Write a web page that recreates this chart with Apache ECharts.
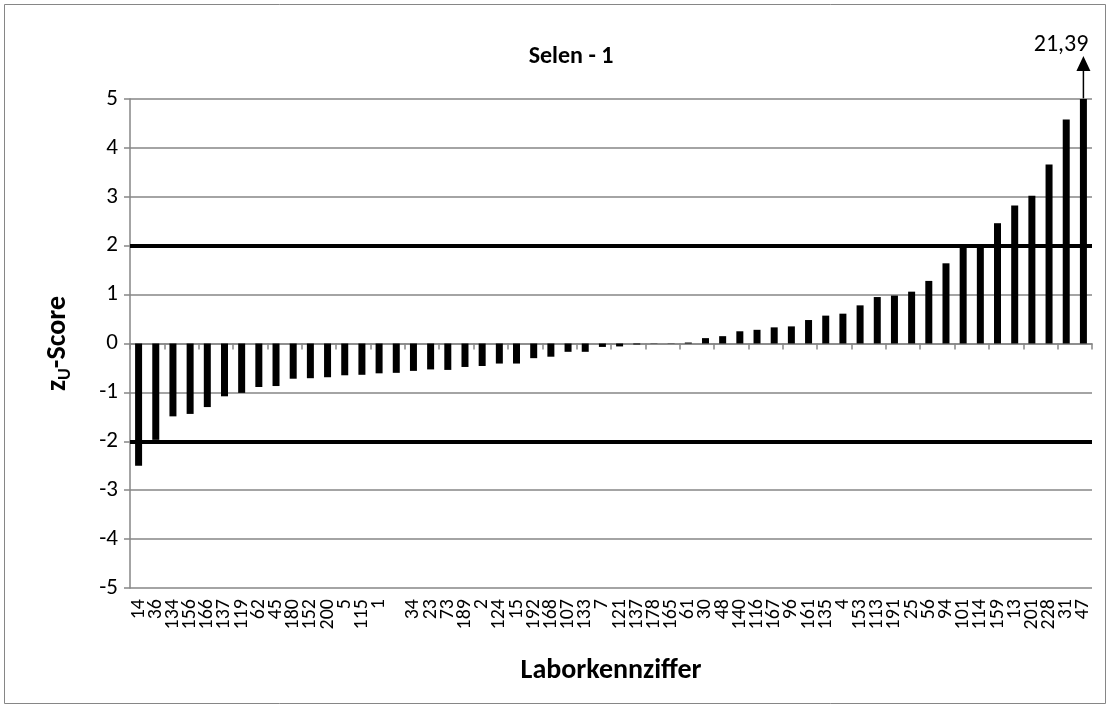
<!DOCTYPE html>
<html>
<head>
<meta charset="utf-8">
<script src="https://cdn.jsdelivr.net/npm/echarts@6/dist/echarts.min.js"></script>
<style>
html,body{margin:0;padding:0;background:#fff;}
#c{width:1111px;height:709px;}
</style>
</head>
<body>
<div id="c"></div>
<script>
// ---- data ----
const categories = ["14","36","134","156","166","137","119","62","45","180","152","200","5","115","1","","34","23","73","189","2","124","15","192","168","107","133","7","121","137","178","165","61","30","48","140","116","167","96","161","135","4","153","113","191","25","56","94","101","114","159","13","201","228","31","47"];
const zScores = [-2.50,-1.97,-1.49,-1.44,-1.30,-1.08,-1.01,-0.89,-0.87,-0.72,-0.71,-0.69,-0.65,-0.64,-0.61,-0.60,-0.56,-0.53,-0.54,-0.48,-0.46,-0.41,-0.41,-0.30,-0.27,-0.17,-0.17,-0.07,-0.06,-0.02,-0.005,0.005,0.02,0.11,0.15,0.25,0.28,0.33,0.35,0.48,0.57,0.61,0.78,0.95,0.98,1.06,1.28,1.64,1.96,2.02,2.46,2.82,3.02,3.66,4.58,21.39];
const limits = [2, -2];
const yTicks = {min: -5, max: 5, interval: 1};
const titleText = "Selen - 1";
const xName = "Laborkennziffer";

const font = "Carlito, Lato, 'Liberation Sans', sans-serif";
const chart = echarts.init(document.getElementById('c'), null, {renderer: 'canvas'});
const gray = '#868686';

const option = {
  backgroundColor: '#fff',
  animation: false,
  title: {
    text: titleText, left: 566, top: 40, textAlign: 'center',
    textStyle: {fontFamily: font, fontSize: 24, fontWeight: 'bold', color: '#000'}
  },
  grid: {left: 130, right: 19, top: 99, bottom: 121, containLabel: false},
  xAxis: [{
    type: 'category', data: categories, position: 'bottom',
    axisLine: {show: false, onZero: false}, axisTick: {show: false},
    axisLabel: {interval: 0, rotate: 90, margin: 11, fontFamily: font, fontSize: 20, color: '#000'},
    name: xName, nameLocation: 'middle', nameGap: 69,
    nameTextStyle: {fontFamily: font, fontSize: 28, fontWeight: 'bold', color: '#000'}
  }, {
    type: 'category', data: categories, position: 'bottom',
    axisLine: {show: true, onZero: true, lineStyle: {color: gray, width: 1.5}},
    axisTick: {show: true, length: 6, lineStyle: {color: gray, width: 1.5}},
    axisLabel: {show: false}
  }],
  yAxis: {
    type: 'value', min: yTicks.min, max: yTicks.max, interval: yTicks.interval,
    axisLine: {show: true, lineStyle: {color: gray, width: 1.5}},
    axisTick: {show: true, length: 6, lineStyle: {color: gray, width: 1.5}},
    axisLabel: {margin: 12, fontFamily: font, fontSize: 23, color: '#000'},
    splitLine: {show: true, lineStyle: {color: gray, width: 1.5}},
    name: '{a|z}{b|U}{a|-Score}', nameLocation: 'middle', nameGap: 56, nameRotate: 90,
    nameTextStyle: {
      rich: {
        a: {fontFamily: font, fontSize: 28, fontWeight: 'bold', color: '#000'},
        b: {fontFamily: font, fontSize: 18, fontWeight: 'bold', color: '#000', padding: [14, 0, 0, 0]}
      }
    }
  },
  series: [{
    type: 'bar', data: zScores, xAxisIndex: 0, yAxisIndex: 0,
    barWidth: 7, clip: true,
    itemStyle: {color: '#000'},
    markLine: {
      silent: true, symbol: 'none', label: {show: false},
      lineStyle: {color: '#000', width: 4, type: 'solid'},
      data: limits.map(v => ({yAxis: v}))
    }
  }],
  graphic: []
};
chart.setOption(option);

// arrow annotation for the clipped last bar
const lastIdx = zScores.length - 1;
const p = chart.convertToPixel({xAxisIndex: 0, yAxisIndex: 0}, [lastIdx, yTicks.max]);
const lastVal = zScores[lastIdx].toFixed(2).replace('.', ',');
chart.setOption({
  graphic: [
    {type: 'rect', shape: {x: 4.5, y: 4.5, width: 1101, height: 699}, style: {fill: 'none', stroke: gray, lineWidth: 1}, silent: true},
    {type: 'line', shape: {x1: p[0], y1: p[1], x2: p[0], y2: p[1] - 30}, style: {stroke: '#000', lineWidth: 1.5}},
    {type: 'polygon', shape: {points: [[p[0] - 7, p[1] - 28], [p[0] + 7, p[1] - 28], [p[0], p[1] - 43]]}, style: {fill: '#000'}},
    {type: 'text', x: p[0] + 5, y: p[1] - 42, style: {text: lastVal, align: 'right', verticalAlign: 'bottom', font: '24px ' + font, fill: '#000'}}
  ]
});
</script>
</body>
</html>
